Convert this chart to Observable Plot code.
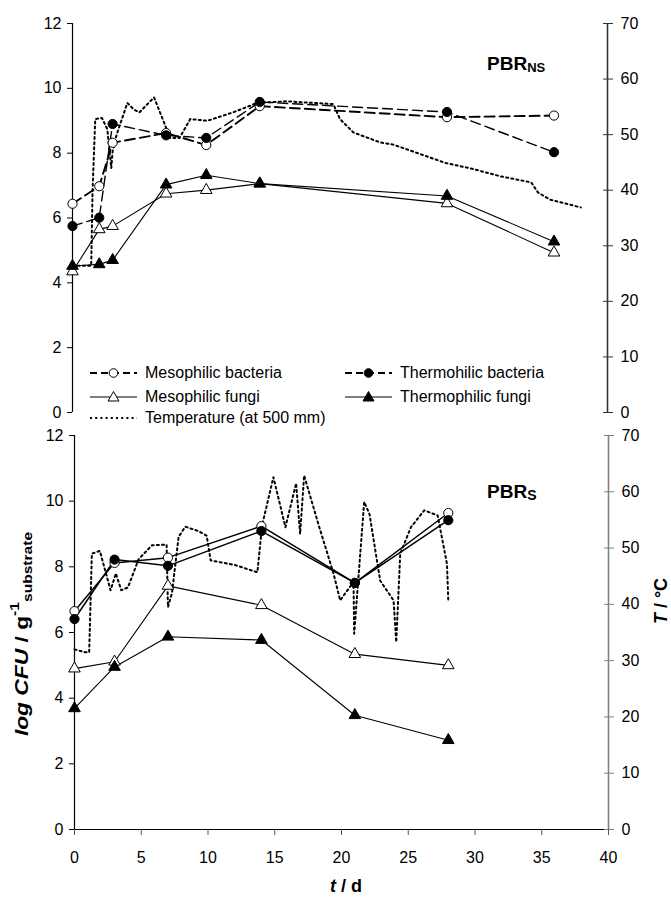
<!DOCTYPE html>
<html><head><meta charset="utf-8">
<script src="https://cdn.jsdelivr.net/npm/d3@7"></script>
<script src="https://cdn.jsdelivr.net/npm/@observablehq/plot@0.6"></script>
<style>
html,body{margin:0;padding:0;background:#fff;}
#wrap{position:relative;width:671px;height:899px;overflow:hidden;font-family:Arial,"Liberation Sans",sans-serif;color:#000;}
#wrap svg.plotsvg{position:absolute;left:0;top:0;}
.leg{position:absolute;font-size:16px;line-height:16px;white-space:nowrap;}
</style></head><body><div id="wrap"></div>
<script>
// ---------- Data: PBR_NS (top panel) ----------
const daysTop = [0, 2, 3, 7, 10, 14, 28, 36];
const mesoBactTop   = [6.44, 6.98, 8.32, 8.62, 8.25, 9.45, 9.11, 9.16];
const thermoBactTop = [5.75, 6.01, 8.90, 8.55, 8.47, 9.58, 9.27, 8.03];
const mesoFungiTop  = [4.35, 5.65, 5.75, 6.75, 6.86, 7.06, 6.45, 4.93];
const thermoFungiTop= [4.52, 4.57, 4.70, 7.03, 7.32, 7.06, 6.68, 5.27];
const tempTopDays = [0, 1.4, 1.5, 1.7, 2.2, 2.6, 2.9, 3.0, 3.3, 4.1, 4.6, 5.0, 6.1, 7.3, 8.0, 8.8, 10.1, 12.0, 13.8, 16.0, 19.5, 20.0, 21.0, 23.0, 24.0, 26.0, 27.9, 29.8, 32.0, 34.3, 34.8, 35.7, 38.0];
const tempTopC    = [26.4, 26.4, 40, 52.8, 53.0, 51, 44.0, 47, 50, 55.7, 54.5, 54.0, 56.7, 49.4, 49.4, 52.8, 52.5, 54.0, 55.7, 56.0, 55.5, 52.8, 50.4, 48.6, 48.2, 46.5, 44.9, 43.9, 42.5, 41.4, 39.6, 38.3, 36.9];

// ---------- Data: PBR_S (bottom panel) ----------
const daysBot = [0, 3, 7, 14, 21, 28];
const mesoBactBot   = [6.65, 8.12, 8.28, 9.24, 7.51, 9.64];
const thermoBactBot = [6.41, 8.22, 8.03, 9.09, 7.51, 9.42];
const mesoFungiBot  = [4.90, 5.11, 7.42, 6.83, 5.34, 5.00];
const thermoFungiBot= [3.69, 4.95, 5.87, 5.77, 3.48, 2.72];
const tempBotDays = [0, 0.8, 1.1, 1.3, 1.9, 2.7, 3.1, 3.5, 4.0, 4.8, 5.8, 6.9, 7.0, 7.3, 7.8, 8.3, 9.3, 9.9, 10.2, 12.0, 13.7, 14.05, 14.9, 15.8, 16.6, 16.9, 17.2, 18.3, 19.4, 19.9, 20.9, 20.95, 21.7, 22.1, 22.9, 23.9, 24.1, 24.4, 25.2, 26.2, 27.2, 27.9, 28.0];
const tempBotC    = [32, 31.5, 31.5, 49, 49.5, 42.5, 45.5, 42.5, 43, 48, 50.5, 50.6, 39.5, 42, 52, 53.8, 53, 52.2, 47.8, 47, 45.7, 54, 62.6, 53.7, 61.5, 52.5, 62.9, 54, 45.5, 40.7, 44, 34.8, 58.2, 56, 44.2, 40.7, 33.3, 49, 53.7, 56.7, 55.8, 47.2, 40.7];

// ---------- Ticks / labels ----------
const xTicks = [0, 5, 10, 15, 20, 25, 30, 35, 40];
const yTicks = [0, 2, 4, 6, 8, 10, 12];
const tTicks = [0, 10, 20, 30, 40, 50, 60, 70];
const seriesNames = ["Mesophilic bacteria", "Thermohilic bacteria", "Mesophilic fungi", "Thermophilic fungi", "Temperature (at 500 mm)"];

const TMAX = 70, YMAX = 12;
const toLeft = T => T * YMAX / TMAX;
const rows = (days, vals) => days.map((t, i) => ({t, v: vals[i]}));

const W = 671, H = 899;
const FONT = 'Arial, "Liberation Sans", sans-serif';
const TEMP_DASH = "2,3.2";

function panel({mt, mb, ml, mr, bactDash, temp, mb1, tb1, mf1, tf1, rightColor, showX}) {
  const marks = [
    Plot.ruleX([0], {y1: 0, y2: YMAX, stroke: "#000", strokeWidth: 1.2}),
    Plot.ruleX([40], {y1: 0, y2: YMAX, stroke: rightColor, strokeWidth: 1.6}),
    Plot.axisY(yTicks, {anchor: "left", tickSize: 5, tickPadding: 6, fontSize: 16, stroke: "#000"}),
    Plot.axisY(tTicks.map(toLeft), {anchor: "right", tickSize: 10, dx: -5, tickPadding: 8, fontSize: 16,
      tickFormat: d => String(Math.round(d * TMAX / YMAX)), stroke: rightColor}),
    Plot.line(temp, {x: "t", y: d => toLeft(d.v), stroke: "#000", strokeWidth: 2, strokeDasharray: TEMP_DASH}),
    Plot.line(mb1, {x: "t", y: "v", stroke: "#000", strokeWidth: bactDash ? 1.9 : 1.5, strokeDasharray: bactDash ? "10,5" : null}),
    Plot.line(tb1, {x: "t", y: "v", stroke: "#000", strokeWidth: bactDash ? 1.4 : 1.5, strokeDasharray: bactDash ? "10,5" : null}),
    Plot.line(mf1, {x: "t", y: "v", stroke: "#000", strokeWidth: 1.1}),
    Plot.line(tf1, {x: "t", y: "v", stroke: "#000", strokeWidth: 1.1}),
    Plot.dot(mf1, {x: "t", y: "v", symbol: "triangle", r: 4.3, fill: "white", stroke: "#000", strokeWidth: 1}),
    Plot.dot(tf1, {x: "t", y: "v", symbol: "triangle", r: 4.3, fill: "#000", stroke: "#000", strokeWidth: 1}),
    Plot.dot(mb1, {x: "t", y: "v", symbol: "circle", r: 4.6, fill: "white", stroke: "#000", strokeWidth: 1}),
    Plot.dot(tb1, {x: "t", y: "v", symbol: "circle", r: 4.6, fill: "#000", stroke: "#000", strokeWidth: 1})
  ];
  if (showX) {
    marks.unshift(Plot.ruleY([0], {x1: 0, x2: 40, stroke: "#000", strokeWidth: 1.2}));
    marks.push(Plot.axisX(xTicks, {anchor: "bottom", tickSize: 6, tickPadding: 16, fontSize: 16, stroke: "#555"}));
  }
  const svg = Plot.plot({
    width: W, height: H,
    marginTop: mt, marginBottom: mb, marginLeft: ml, marginRight: mr,
    x: {domain: [0, 40], axis: showX ? undefined : null, label: null},
    y: {domain: [0, YMAX], label: null},
    style: {fontFamily: FONT, fontSize: "16px", background: "transparent", overflow: "visible", color: "#000"},
    marks
  });
  svg.classList.add("plotsvg");
  return svg;
}

const wrap = document.getElementById("wrap");

wrap.appendChild(panel({
  mt: 23, mb: H - 412, ml: 72, mr: W - 607, bactDash: true,
  temp: rows(tempTopDays, tempTopC),
  mb1: rows(daysTop, mesoBactTop), tb1: rows(daysTop, thermoBactTop),
  mf1: rows(daysTop, mesoFungiTop), tf1: rows(daysTop, thermoFungiTop),
  rightColor: "#333", showX: false
}));

wrap.appendChild(panel({
  mt: 435, mb: H - 829, ml: 74, mr: W - 608, bactDash: false,
  temp: rows(tempBotDays, tempBotC),
  mb1: rows(daysBot, mesoBactBot), tb1: rows(daysBot, thermoBactBot),
  mf1: rows(daysBot, mesoFungiBot), tf1: rows(daysBot, thermoFungiBot),
  rightColor: "#808080", showX: true
}));

// ---------- Legend ----------
const legendStyle = [
  {dash: "7,4", sw: 2, sym: "circle", fill: "white"},
  {dash: "7,4", sw: 2, sym: "circle", fill: "#000"},
  {dash: null, sw: 1.1, sym: "tri", fill: "white"},
  {dash: null, sw: 1.1, sym: "tri", fill: "#000"},
  {dash: TEMP_DASH, sw: 2, sym: null, fill: null}
];
const legPos = [[90, 373], [345, 373], [90, 397], [345, 397], [90, 418]];
seriesNames.forEach((name, i) => {
  const s = legendStyle[i], [lx, ly] = legPos[i];
  const ns = "http://www.w3.org/2000/svg";
  const sv = document.createElementNS(ns, "svg");
  sv.setAttribute("width", 50); sv.setAttribute("height", 16);
  sv.style.position = "absolute"; sv.style.left = lx + "px"; sv.style.top = (ly - 8) + "px";
  const ln = document.createElementNS(ns, "line");
  ln.setAttribute("x1", 0); ln.setAttribute("x2", 47); ln.setAttribute("y1", 8); ln.setAttribute("y2", 8);
  ln.setAttribute("stroke", "#000"); ln.setAttribute("stroke-width", s.sw);
  if (s.dash) ln.setAttribute("stroke-dasharray", s.dash);
  sv.appendChild(ln);
  if (s.sym === "circle") {
    const c = document.createElementNS(ns, "circle");
    c.setAttribute("cx", 23.5); c.setAttribute("cy", 8); c.setAttribute("r", 4.3);
    c.setAttribute("fill", s.fill); c.setAttribute("stroke", "#000");
    sv.appendChild(c);
  } else if (s.sym === "tri") {
    const p = document.createElementNS(ns, "path");
    p.setAttribute("d", "M23.5,2.5L29,12L18,12Z");
    p.setAttribute("fill", s.fill); p.setAttribute("stroke", "#000");
    sv.appendChild(p);
  }
  wrap.appendChild(sv);
  const t = document.createElement("div");
  t.className = "leg"; t.textContent = name;
  t.style.left = (lx + 55) + "px"; t.style.top = (ly - 8) + "px";
  wrap.appendChild(t);
});

// ---------- Titles & axis labels ----------
const over = document.createElementNS("http://www.w3.org/2000/svg", "svg");
over.setAttribute("width", W); over.setAttribute("height", H);
over.style.position = "absolute"; over.style.left = "0"; over.style.top = "0";
over.setAttribute("font-family", FONT);
over.innerHTML = `
  <text x="487" y="70" font-weight="bold" font-size="19">PBR<tspan font-size="13" dy="2">NS</tspan></text>
  <text x="487" y="498" font-weight="bold" font-size="19">PBR<tspan font-size="14" dy="2">S</tspan></text>
  <text transform="translate(28,634) rotate(-90) scale(1.2,1)" text-anchor="middle" font-weight="bold" font-size="19"><tspan font-style="italic">log CFU</tspan> / g<tspan font-size="13" dy="-9">-1</tspan><tspan font-size="13" dy="13">substrate</tspan></text>
  <text transform="translate(667,601) rotate(-90)" text-anchor="middle" font-weight="bold" font-size="18"><tspan font-style="italic">T</tspan> / °C</text>
  <text x="346" y="892" text-anchor="middle" font-weight="bold" font-size="18"><tspan font-style="italic">t</tspan> / d</text>
`;
wrap.appendChild(over);
</script>
</body></html>
